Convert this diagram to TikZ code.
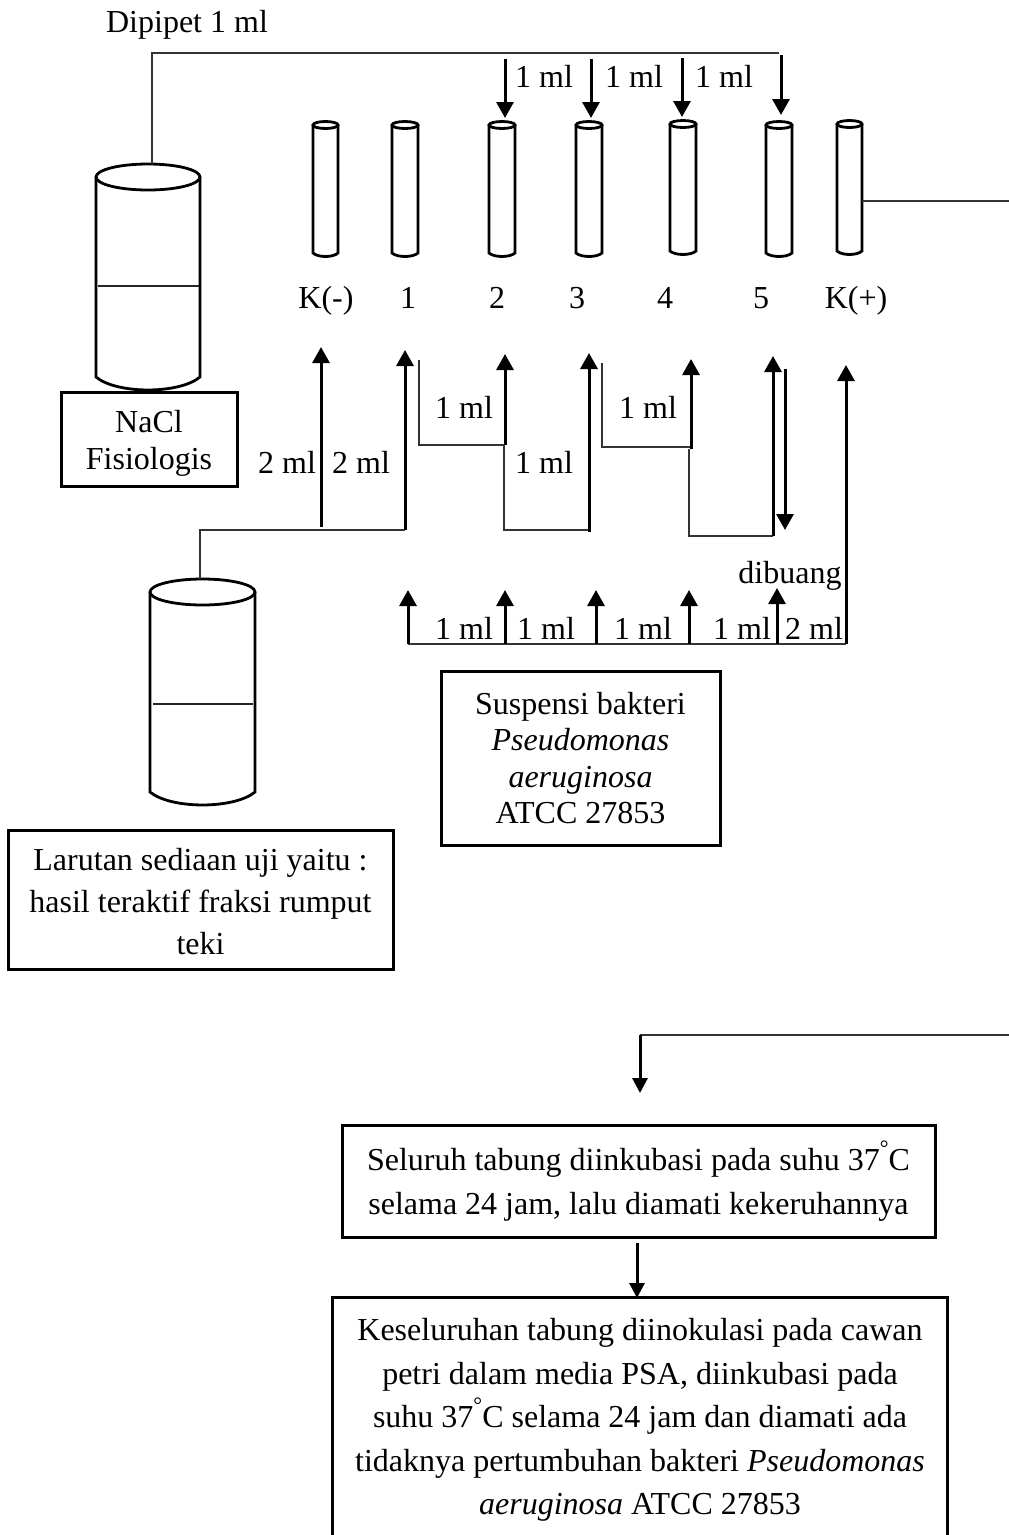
\documentclass[tikz,border=0pt]{standalone}
\usepackage{fontspec}
\setmainfont{Liberation Serif}
\usetikzlibrary{arrows.meta,positioning}
\newcommand{\vessel}[5]{%
  \draw[vesselline] (#1,#3) -- (#1,#4) .. controls (#1+.2*#2-.2*#1,#4+1.33*#5) and (#2-.2*#2+.2*#1,#4+1.33*#5) .. (#2,#4) -- (#2,#3);
  \draw[vesselline] ({(#1+#2)/2},#3) ellipse [x radius={(#2-#1)/2*1pt}, y radius=#5*1pt];
}
\newcommand{\degring}{\raisebox{15pt}{\fontsize{22}{22}\selectfont °}}
\tikzset{
  vesselline/.style={draw=black,line width=2.8pt},
  thinline/.style={draw=black!80,line width=1.6pt},
  levelline/.style={draw=black!85,line width=1.4pt},
  flowarrow/.style={-{Triangle[length=16pt,width=17pt]},draw=black,line width=3pt},
  mllabel/.style={font=\fontsize{32}{37}\selectfont,anchor=base,inner sep=0pt},
  infobox/.style={draw=black,line width=3pt,align=center,inner sep=0pt,font=\fontsize{32}{36.5}\selectfont},
  stepbox/.style={infobox,font=\fontsize{32}{43.5}\selectfont}
}
\begin{document}
\begin{tikzpicture}[x=1pt,y=-1pt]
\useasboundingbox (0,0) rectangle (1009,1535);
% tubes
\vessel{313}{338}{125}{253}{3.5}
\vessel{392}{418}{125}{253}{3.5}
\vessel{489}{515}{125}{253}{3.5}
\vessel{576}{602}{125}{253}{3.5}
\vessel{670}{696}{124}{251}{3.5}
\vessel{766}{792}{125}{253}{3.5}
\vessel{837}{862}{124}{251}{3.5}
% large vessels
\vessel{96}{200}{177}{377}{13}
\vessel{150}{255}{592}{792}{13}
\coordinate (nacltop) at (152,164);
\coordinate (nacllevelL) at (98,286);
\coordinate (nacllevelR) at (199,286);
\coordinate (sampletop) at (200,579);
\coordinate (samplelevelL) at (153,704);
\coordinate (samplelevelR) at (253,704);
\draw[levelline] (nacllevelL) -- (nacllevelR);
\draw[levelline] (samplelevelL) -- (samplelevelR);
% boxes
\node[infobox,minimum width=176pt,minimum height=94pt] (nacl) at (149,439) {\rule{0pt}{31pt}NaCl\\Fisiologis};
\node[infobox,minimum width=279pt,minimum height=174pt] (suspensi) at (580.5,758) {Suspensi bakteri\\\textit{Pseudomonas}\\\textit{aeruginosa}\\ATCC 27853};
\node[infobox,font=\fontsize{32}{42}\selectfont,minimum width=385pt,minimum height=139pt] (larutan) at (200.5,899.5) {\rule{0pt}{26pt}Larutan sediaan uji yaitu :\\hasil teraktif fraksi rumput\\teki};
\node[stepbox,minimum width=593pt,minimum height=112pt] (inkubasi) at (638.5,1181) {\rule{0pt}{28pt}Seluruh tabung diinkubasi pada suhu 37\degring C\\selama 24 jam, lalu diamati kekeruhannya};
\node[stepbox,draw=none,minimum width=612pt,minimum height=236pt] (inokulasi) at (640,1417) {\rule{0pt}{28pt}Keseluruhan tabung diinokulasi pada cawan\\petri dalam media PSA, diinkubasi pada\\suhu 37\degring C selama 24 jam dan diamati ada\\tidaknya pertumbuhan bakteri \textit{Pseudomonas}\\\textit{aeruginosa} ATCC 27853};
\draw[vesselline,line width=3pt] (inokulasi.south west) -- (inokulasi.north west) -- (inokulasi.north east) -- (inokulasi.south east);
% tube labels
\node[mllabel] (dipipet) at (187,32) {Dipipet 1 ml};
\foreach \n/\x/\t in {kneg/326/K(-),one/408/1,two/497/2,three/577/3,four/665/4,five/761/5,kpos/856/K(+)}{
  \node[mllabel] (lab\n) at (\x,308) {\t};
}
% dipipet line
\coordinate (pipetcorner) at (152,53);
\coordinate (pipetend) at (779,53);
\draw[thinline] (nacltop) -- (pipetcorner) -- (pipetend);
\foreach \n/\x/\a/\b in {two/505/59/118,three/591/59/118,four/682/58/117,five/781/55/115}{
  \coordinate (pipet\n) at (\x,\a);
  \coordinate (tube\n) at (\x,\b);
  \draw[flowarrow] (pipet\n) -- (tube\n);
}
\foreach \n/\x/\y in {a/544/87,b/634/87,c/724/87,d/464/418,e/544/473,f/648/418,g/464/639,h/546/639,i/643/639,j/742/639}{
  \node[mllabel] (ml\n) at (\x,\y) {1 ml};
}
\foreach \n/\x/\y in {a/287/473,b/361/473,c/814/639}{
  \node[mllabel] (twoml\n) at (\x,\y) {2 ml};
}
\node[mllabel] (dibuang) at (790,583) {dibuang};
% sample solution to K(-) and 1
\coordinate (samplecorner) at (200,530);
\coordinate (samplejoin) at (405,530);
\coordinate (kbase) at (321,527);
\coordinate (ktip) at (321,347);
\coordinate (onetip) at (405,350);
\draw[thinline] (sampletop) -- (samplecorner) -- (samplejoin);
\draw[flowarrow] (kbase) -- (ktip);
\draw[flowarrow] (samplejoin) -- (onetip);
% serial transfers
\coordinate (s1a) at (419,360);
\coordinate (s1b) at (419,445);
\coordinate (s1c) at (505,445);
\coordinate (s1d) at (505,354);
\coordinate (s2a) at (504,445);
\coordinate (s2b) at (504,530);
\coordinate (s2c) at (589,532);
\coordinate (s2h) at (589,530);
\coordinate (s2d) at (589,353);
\coordinate (s3a) at (602,363);
\coordinate (s3b) at (602,447);
\coordinate (s3c) at (691,449);
\coordinate (s3h) at (691,447);
\coordinate (s3d) at (691,359);
\coordinate (s4a) at (689,449);
\coordinate (s4b) at (689,536);
\coordinate (s4c) at (773,536);
\coordinate (s4d) at (773,356);
\coordinate (wastetop) at (785,369);
\coordinate (wastetip) at (785,530);
\draw[thinline] (s1a) -- (s1b) -- (s1c);
\draw[flowarrow] (s1c) -- (s1d);
\draw[thinline] (s2a) -- (s2b) -- (s2h);
\draw[flowarrow] (s2c) -- (s2d);
\draw[thinline] (s3a) -- (s3b) -- (s3h);
\draw[flowarrow] (s3c) -- (s3d);
\draw[thinline] (s4a) -- (s4b) -- (s4c);
\draw[flowarrow] (s4c) -- (s4d);
\draw[flowarrow] (wastetop) -- (wastetip);
% bacteria suspension
\coordinate (busL) at (408,644);
\coordinate (busR) at (846,644);
\coordinate (kpostip) at (846,365);
\draw[thinline] (busL) -- (busR);
\draw[flowarrow] (busR) -- (kpostip);
\foreach \n/\x/\t in {a/408/590,b/505/590,c/596/590,d/689/590,e/777/588}{
  \coordinate (busbase\n) at (\x,644);
  \coordinate (bustip\n) at (\x,\t);
  \draw[flowarrow] (busbase\n) -- (bustip\n);
}
% continuation
\coordinate (kposout) at (862,201);
\coordinate (rightedge) at (1009,201);
\draw[thinline] (kposout) -- (rightedge);
\coordinate (nextstart) at (1009,1035);
\coordinate (nextcorner) at (640,1035);
\coordinate (nexttip) at (640,1093);
\draw[thinline] (nextstart) -- (nextcorner);
\draw[flowarrow,-{Triangle[length=15pt,width=15pt]}] (nextcorner) -- (nexttip);
\coordinate (inktoin) at (637,1243);
\coordinate (inoktip) at (637,1298);
\draw[flowarrow,-{Triangle[length=15pt,width=15pt]}] (inktoin) -- (inoktip);
\end{tikzpicture}
\end{document}
